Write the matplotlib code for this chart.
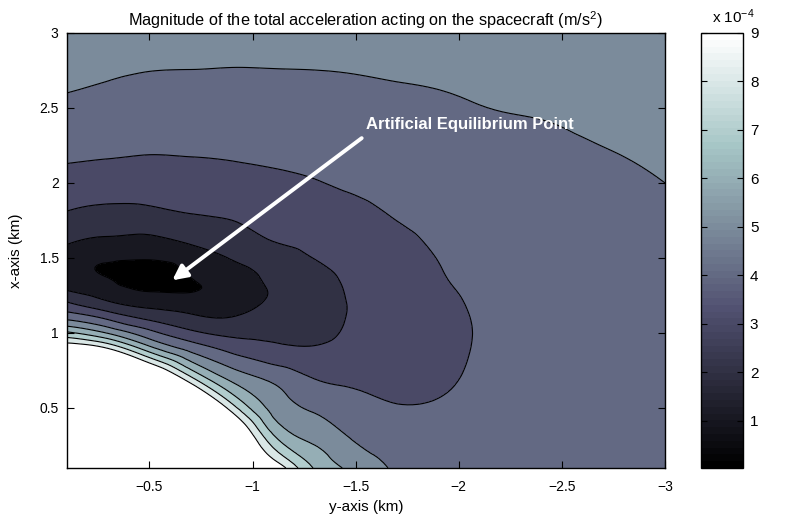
import numpy as np
import matplotlib
matplotlib.use("Agg")
import matplotlib.pyplot as plt
import matplotlib.tri as mtri
from matplotlib.colors import Normalize
from matplotlib.cm import ScalarMappable
from matplotlib.ticker import FuncFormatter

plt.rcParams['font.family'] = ['Liberation Sans', 'DejaVu Sans']
plt.rcParams['mathtext.fontset'] = 'custom'
plt.rcParams['mathtext.rm'] = 'Liberation Sans'
plt.rcParams['mathtext.it'] = 'Liberation Sans:italic'

# === DATA ===
# horizontal axis = "y-axis (km)", vertical axis = "x-axis (km)"
y_km = [-0.1, -0.3, -0.5, -0.7, -0.9, -1.1, -1.3, -1.5, -1.7, -1.9, -2.1, -2.4, -2.7, -3.0]
x_km = [0.1, 0.3, 0.5, 0.7, 0.9, 1.0, 1.1, 1.2, 1.3, 1.4, 1.5, 1.6, 1.8, 2.0, 2.2, 2.4, 2.6, 2.8, 3.0]

# |a| in units of 1e-4 m/s^2, one row per x_km value, one column per y_km value
acc = [
    [26.0, 22.0, 18.4, 15.4, 12.4, 10.0, 6.93, 5.71, 4.85, 4.62, 4.55, 4.55, 4.60, 4.65],
    [23.0, 20.6, 17.0, 14.6, 11.6, 7.25, 5.75, 4.88, 4.45, 4.40, 4.45, 4.52, 4.60, 4.67],
    [19.8, 18.5, 15.7, 12.5, 8.5, 5.70, 4.85, 4.31, 4.05, 4.08, 4.22, 4.40, 4.52, 4.62],
    [15.5, 14.2, 11.8, 8.2, 5.70, 4.75, 3.97, 3.80, 3.75, 3.88, 4.10, 4.33, 4.48, 4.60],
    [10.0, 8.9, 6.3, 4.6, 3.65, 3.18, 3.06, 3.35, 3.55, 3.77, 4.05, 4.30, 4.47, 4.60],
    [7.2, 5.92, 4.33, 3.24, 2.75, 2.80, 2.75, 3.20, 3.48, 3.75, 4.04, 4.30, 4.47, 4.61],
    [4.75, 3.79, 2.79, 2.20, 2.04, 2.45, 2.60, 3.13, 3.45, 3.77, 4.05, 4.31, 4.48, 4.63],
    [3.10, 2.14, 1.65, 1.50, 1.60, 2.12, 2.52, 3.12, 3.46, 3.81, 4.08, 4.33, 4.50, 4.66],
    [1.85, 1.38, 0.70, 0.90, 1.42, 2.08, 2.55, 3.18, 3.50, 3.88, 4.13, 4.37, 4.53, 4.70],
    [1.45, 0.88, 0.03, 1.13, 1.60, 2.25, 2.70, 3.30, 3.57, 3.95, 4.20, 4.42, 4.57, 4.74],
    [1.65, 1.18, 1.18, 1.59, 2.06, 2.60, 3.02, 3.45, 3.67, 4.02, 4.27, 4.48, 4.62, 4.79],
    [2.05, 1.76, 1.78, 2.05, 2.46, 2.97, 3.20, 3.60, 3.80, 4.12, 4.34, 4.54, 4.67, 4.84],
    [2.95, 2.75, 2.78, 3.02, 3.16, 3.40, 3.58, 3.83, 4.06, 4.30, 4.50, 4.67, 4.78, 4.92],
    [3.63, 3.50, 3.46, 3.56, 3.67, 3.82, 3.96, 4.12, 4.27, 4.48, 4.66, 4.78, 4.88, 5.00],
    [4.18, 4.10, 4.03, 4.06, 4.11, 4.17, 4.24, 4.36, 4.49, 4.66, 4.80, 4.90, 4.98, 5.08],
    [4.59, 4.48, 4.39, 4.40, 4.43, 4.47, 4.51, 4.61, 4.70, 4.82, 4.93, 4.99, 5.07, 5.15],
    [5.00, 4.86, 4.75, 4.74, 4.74, 4.76, 4.79, 4.85, 4.92, 4.98, 5.05, 5.10, 5.16, 5.22],
    [5.26, 5.17, 5.08, 5.06, 5.04, 5.05, 5.06, 5.09, 5.13, 5.16, 5.20, 5.24, 5.26, 5.30],
    [5.50, 5.42, 5.33, 5.29, 5.27, 5.27, 5.28, 5.30, 5.33, 5.35, 5.37, 5.38, 5.38, 5.38],
]

levels = [1, 2, 3, 4, 5, 6, 7, 8, 9]   # contour levels, 1e-4 m/s^2
eq_point = (-0.6, 1.34)                 # arrow tip
arrow_tail = (-1.54, 2.31)
label_pos = (-1.55, 2.39)               # annotation text

# === FIELD ===
Y, X = np.meshgrid(y_km, x_km)
Z = np.array(acc)
tri = mtri.Triangulation(Y.ravel(), X.ravel())
interp = mtri.CubicTriInterpolator(tri, Z.ravel(), kind='min_E')
tri_f, z_f = mtri.UniformTriRefiner(tri).refine_field(Z.ravel(), triinterpolator=interp, subdiv=3)

zmin, zmax = Z.min(), levels[-1]
norm = Normalize(zmin, zmax)
cmap = plt.get_cmap('bone')
fill_levels = [-100] + levels + [100]
band_colors = [cmap(norm(v)) for v in [zmin] + levels]

# === PLOT ===
fig = plt.figure(figsize=(7.89, 5.25), dpi=100)
ax = fig.add_axes([0.0849, 0.1086, 0.7579, 0.8286])
ax.tricontourf(tri_f, z_f, levels=fill_levels, colors=band_colors)
ax.tricontour(tri_f, z_f, levels=levels, colors='k', linewidths=0.8)

ax.set_xlim(-0.1, -3)
ax.set_ylim(0.1, 3)
ax.set_xticks([-0.5, -1, -1.5, -2, -2.5, -3])
ax.set_yticks([0.5, 1, 1.5, 2, 2.5, 3])
fmt = FuncFormatter(lambda v, p: ('%g' % v).replace('-', '\u2212'))
ax.xaxis.set_major_formatter(fmt)
ax.yaxis.set_major_formatter(fmt)
ax.tick_params(direction='in', top=True, right=True, length=5, width=0.8, labelsize=10)
ax.tick_params(axis='x', pad=9)
ax.tick_params(axis='y', pad=6)
for s in ax.spines.values():
    s.set_linewidth(1.0)

ax.set_xlabel('y-axis (km)', fontsize=11, labelpad=4)
ax.set_ylabel('x-axis (km)', fontsize=11, labelpad=12)
ax.set_title('Magnitude of the total acceleration acting on the spacecraft (m/s$^2$)',
             fontsize=11.7, pad=5)

ax.annotate('', xy=eq_point, xytext=arrow_tail,
            arrowprops=dict(arrowstyle='-|>', color='white', lw=2.8, mutation_scale=22))
ax.text(label_pos[0], label_pos[1], 'Artificial Equilibrium Point', color='white',
        fontweight='bold', fontsize=12, ha='left', va='center')

# colorbar
cax = fig.add_axes([0.8885, 0.1086, 0.0532, 0.8286])
sm = ScalarMappable(norm=norm, cmap=cmap.resampled(64))
cb = fig.colorbar(sm, cax=cax, ticks=levels)
cb.ax.set_yticklabels([str(v) for v in levels])
cax.tick_params(direction='in', left=True, right=True, length=4, width=0.8, labelsize=11, pad=5)
cb.outline.set_linewidth(1.0)
fig.text(0.902, 0.956, r'x 10$^{-4}$', fontsize=11, va='baseline')

fig.savefig('out.png', dpi=100)
